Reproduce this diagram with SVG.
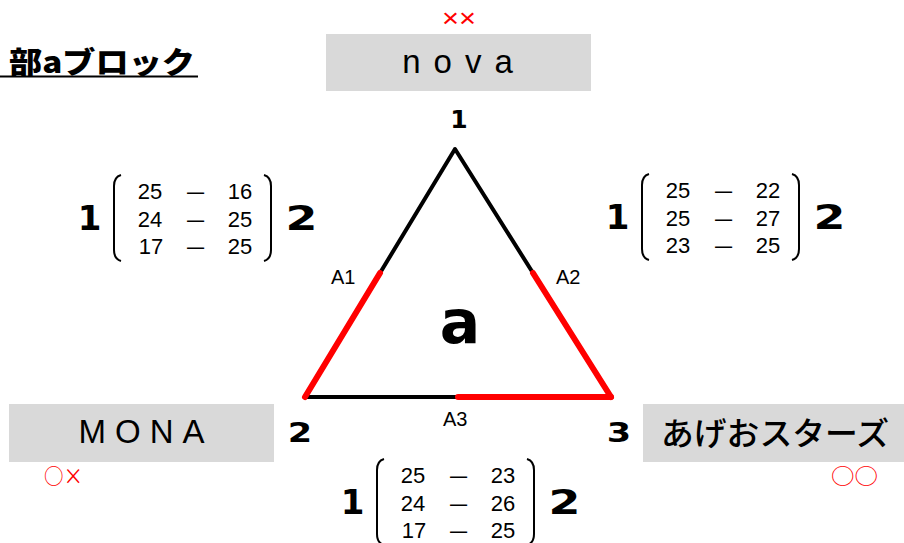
<svg xmlns="http://www.w3.org/2000/svg" width="904" height="543" viewBox="0 0 904 543">
<style>
.num{font-family:"Liberation Sans",Arial,sans-serif;font-size:22px;text-anchor:middle;fill:#000}
.bd{font-family:"DejaVu Sans",sans-serif;font-weight:bold;text-anchor:middle;fill:#000}
.box{fill:#d9d9d9}
.name{font-family:"Liberation Sans",Arial,sans-serif;font-size:33px;text-anchor:middle;fill:#000}
.mark{font-family:"Noto Sans CJK JP",sans-serif;fill:#ff0000}
.lbl{font-family:"Liberation Sans",Arial,sans-serif;font-size:20px;fill:#000}
.br{fill:none;stroke:#000;stroke-width:2}
.blk{fill:none;stroke:#000;stroke-width:4;stroke-linejoin:round;stroke-linecap:round}
.red{fill:none;stroke:#ff0000;stroke-width:6;stroke-linecap:round}
</style>
<rect width="904" height="543" fill="#fff"/>

<g id="title">
<text x="9" y="73" textLength="186" lengthAdjust="spacingAndGlyphs" style="font-family:'Noto Sans CJK JP',sans-serif;font-weight:900;font-size:30px">部aブロック</text>
<line x1="0" y1="76.5" x2="198" y2="76.5" stroke="#000" stroke-width="2"/>
</g>

<g id="nova">
<rect class="box" x="326" y="34" width="265" height="57"/>
<text class="name" x="464" y="73" letter-spacing="13">nova</text>
<text x="442" y="27" font-size="26" textLength="34" lengthAdjust="spacingAndGlyphs" style="font-family:'Liberation Sans',Arial,sans-serif;fill:#ff0000">××</text>
</g>

<g id="mona">
<rect class="box" x="9" y="404" width="265" height="58"/>
<text class="name" x="146" y="443" letter-spacing="9">MONA</text>
<text class="mark" x="44" y="484" font-size="22" textLength="39" lengthAdjust="spacingAndGlyphs">○×</text>
</g>

<g id="ageo">
<rect class="box" x="643" y="404" width="265" height="58"/>
<text x="661" y="445" textLength="228" lengthAdjust="spacingAndGlyphs" style="font-family:'Noto Sans CJK JP',sans-serif;font-weight:500;font-size:32px;fill:#000">あげおスターズ</text>
<text class="mark" x="831" y="484" font-size="22" textLength="47" lengthAdjust="spacingAndGlyphs">○○</text>
</g>

<g id="connectors">
<path class="blk" d="M455,149 L305,397 L611,397 Z"/>
<line class="red" x1="380" y1="273" x2="305" y2="397"/>
<line class="red" x1="533" y1="273" x2="611" y2="397"/>
<line class="red" x1="458" y1="397" x2="611" y2="397"/>
</g>

<g id="block-a">
<text class="bd" x="460" y="343" font-size="60">a</text>
<text class="bd" x="459" y="128" font-size="25">1</text>
<text class="bd" transform="translate(300,442) scale(1.3,1)" font-size="27">2</text>
<text class="bd" transform="translate(619,442) scale(1.3,1)" font-size="27">3</text>
<text class="lbl" x="331" y="284">A1</text>
<text class="lbl" x="556" y="284">A2</text>
<text class="lbl" x="443" y="426">A3</text>
</g>

<g id="matrix-left">
<text class="bd" x="89.5" y="230" font-size="34">1</text>
<text class="bd" transform="translate(301.5,230) scale(1.35,1)" font-size="34">2</text>
<path class="br" d="M121,175 Q114,177 114,186 L114,250 Q114,259 121,261"/>
<path class="br" d="M264,175 Q271,177 271,186 L271,250 Q271,259 264,261"/>
<text class="num" y="199"><tspan x="150">25</tspan><tspan x="240">16</tspan></text>
<text class="num" y="227"><tspan x="150">24</tspan><tspan x="240">25</tspan></text>
<text class="num" y="254"><tspan x="151">17</tspan><tspan x="240">25</tspan></text>
<text class="num" transform="translate(195.5,199) scale(1.4,1)">–</text>
<text class="num" transform="translate(195.5,227) scale(1.4,1)">–</text>
<text class="num" transform="translate(195.5,254) scale(1.4,1)">–</text>
</g>

<g id="matrix-right" transform="translate(528,-1)">
<text class="bd" x="89.5" y="230" font-size="34">1</text>
<text class="bd" transform="translate(301.5,230) scale(1.35,1)" font-size="34">2</text>
<path class="br" d="M121,175 Q114,177 114,186 L114,250 Q114,259 121,261"/>
<path class="br" d="M264,175 Q271,177 271,186 L271,250 Q271,259 264,261"/>
<text class="num" y="199"><tspan x="150">25</tspan><tspan x="240">22</tspan></text>
<text class="num" y="227"><tspan x="150">25</tspan><tspan x="240">27</tspan></text>
<text class="num" y="254"><tspan x="150">23</tspan><tspan x="240">25</tspan></text>
<text class="num" transform="translate(195.5,199) scale(1.4,1)">–</text>
<text class="num" transform="translate(195.5,227) scale(1.4,1)">–</text>
<text class="num" transform="translate(195.5,254) scale(1.4,1)">–</text>
</g>

<g id="matrix-bottom" transform="translate(263,284)">
<text class="bd" x="89.5" y="230" font-size="34">1</text>
<text class="bd" transform="translate(301.5,230) scale(1.35,1)" font-size="34">2</text>
<path class="br" d="M121,175 Q114,177 114,186 L114,250 Q114,259 121,261"/>
<path class="br" d="M264,175 Q271,177 271,186 L271,250 Q271,259 264,261"/>
<text class="num" y="199"><tspan x="150">25</tspan><tspan x="240">23</tspan></text>
<text class="num" y="227"><tspan x="150">24</tspan><tspan x="240">26</tspan></text>
<text class="num" y="254"><tspan x="151">17</tspan><tspan x="240">25</tspan></text>
<text class="num" transform="translate(195.5,199) scale(1.4,1)">–</text>
<text class="num" transform="translate(195.5,227) scale(1.4,1)">–</text>
<text class="num" transform="translate(195.5,254) scale(1.4,1)">–</text>
</g>
</svg>
